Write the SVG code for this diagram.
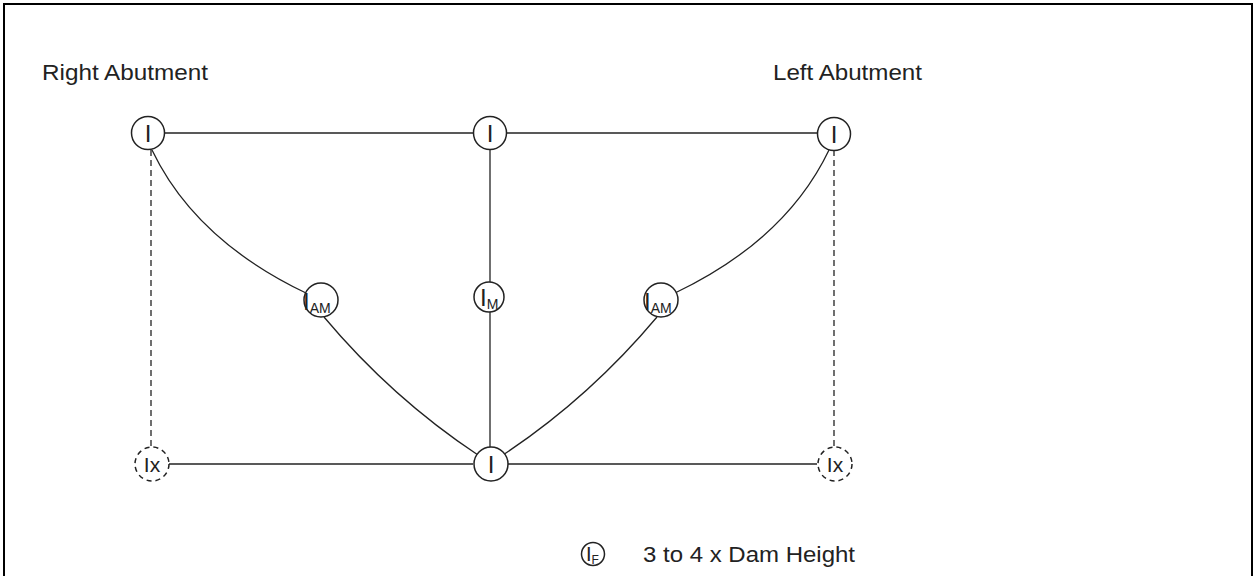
<svg xmlns="http://www.w3.org/2000/svg" width="1256" height="576" viewBox="0 0 1256 576">
<style>
.n{fill:#fff;stroke:#222;stroke-width:1.5}
.d{fill:#fff;stroke:#222;stroke-width:1.5;stroke-dasharray:5,4}
.l{fill:none;stroke:#222;stroke-width:1.3}
.dl{fill:none;stroke:#222;stroke-width:1.3;stroke-dasharray:6,4}
text{font-family:"Liberation Sans",Arial,sans-serif;fill:#222}
.t{font-size:22.5px}
.lab{font-size:24px}
.lx{font-size:21px}
.sub{font-size:14px}
</style>
<rect x="4" y="4" width="1248" height="620" fill="#fff" stroke="#000" stroke-width="2"/>
<g id="connectors">
<line class="l" x1="165" y1="133" x2="473" y2="133"/>
<line class="l" x1="507" y1="133" x2="817" y2="133"/>
<line class="l" x1="490" y1="150" x2="490" y2="282"/>
<line class="l" x1="490" y1="312" x2="490" y2="447"/>
<line class="l" x1="169" y1="464" x2="473" y2="464"/>
<line class="l" x1="507" y1="464" x2="817" y2="464"/>
<line class="dl" x1="151" y1="150" x2="151" y2="452"/>
<line class="dl" x1="834" y1="150" x2="834" y2="452"/>
<path class="l" d="M152,150 Q195,240 306,293"/>
<path class="l" d="M324,317 Q392,398 478,455"/>
<path class="l" d="M829,150 Q786,240 675,293"/>
<path class="l" d="M657,317 Q589,398 503,455"/>
</g>
<g id="label-right"><text class="t" x="42" y="80" textLength="166" lengthAdjust="spacingAndGlyphs">Right Abutment</text></g>
<g id="label-left"><text class="t" x="773" y="80" textLength="149" lengthAdjust="spacingAndGlyphs">Left Abutment</text></g>
<g id="n-tl"><circle class="n" cx="148" cy="133" r="16.5"/><text class="lab" x="148" y="142" text-anchor="middle">I</text></g>
<g id="n-tc"><circle class="n" cx="490" cy="133" r="16.5"/><text class="lab" x="490" y="142" text-anchor="middle">I</text></g>
<g id="n-tr"><circle class="n" cx="834" cy="134" r="16.5"/><text class="lab" x="834" y="143" text-anchor="middle">I</text></g>
<g id="n-aml"><circle class="n" cx="321" cy="300" r="17"/><text class="lab" x="303" y="310">I<tspan class="sub" dy="3">AM</tspan></text></g>
<g id="n-m"><circle class="n" cx="489" cy="297" r="15"/><text class="lab" x="480" y="306">I<tspan class="sub" dy="3">M</tspan></text></g>
<g id="n-amr"><circle class="n" cx="661" cy="300" r="17"/><text class="lab" x="644" y="310">I<tspan class="sub" dy="3">AM</tspan></text></g>
<g id="n-bl"><circle class="d" cx="152" cy="464" r="17"/><text class="lx" x="152" y="472" text-anchor="middle">Ix</text></g>
<g id="n-bc"><circle class="n" cx="491" cy="464" r="17"/><text class="lab" x="491" y="473" text-anchor="middle">I</text></g>
<g id="n-br"><circle class="d" cx="835" cy="464" r="17"/><text class="lx" x="835" y="472" text-anchor="middle">Ix</text></g>
<g id="legend"><circle class="n" cx="593" cy="554" r="11.5"/><text style="font-size:20px" x="586" y="561">I<tspan style="font-size:12px" dy="3">F</tspan></text><text class="t" x="643" y="562" textLength="212" lengthAdjust="spacingAndGlyphs">3 to 4 x Dam Height</text></g>
</svg>
